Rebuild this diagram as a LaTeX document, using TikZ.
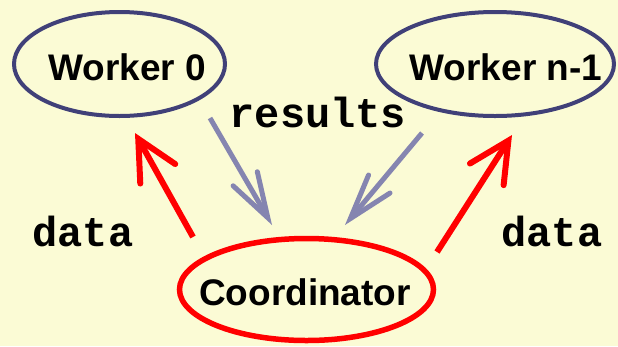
\documentclass[tikz,border=0pt]{standalone}
\usepackage{fontspec}
\setmainfont{Liberation Sans}
\newfontfamily\codefont{Liberation Mono}
\usetikzlibrary{arrows.meta,shapes.geometric}
\definecolor{bgyellow}{RGB}{251,251,213}
\definecolor{navy}{RGB}{64,64,120}
\definecolor{lavender}{RGB}{133,133,176}
\definecolor{pured}{RGB}{255,0,0}
\begin{document}
\begin{tikzpicture}[x=1pt,y=-1pt,
  worker/.style={draw=navy, line width=4pt, ellipse, inner sep=0pt},
  coordell/.style={draw=pured, line width=5.5pt, ellipse, inner sep=0pt},
  boldlabel/.style={font=\fontsize{37}{40}\selectfont\bfseries, anchor=base, inner sep=0pt},
  codelabel/.style={font=\codefont\fontsize{42}{46}\selectfont\bfseries, anchor=base, inner sep=0pt},
  dataarrow/.style={draw=pured, line width=6pt, line cap=butt,
    -{Straight Barb[length=40pt, width=40pt, line cap=round, line join=miter]}},
  resarrow/.style={draw=lavender, line width=5pt, line cap=butt,
    -{Straight Barb[length=45pt, width=28pt, line cap=round, line join=miter]}}]
\useasboundingbox (0,0) rectangle (618,346);
\fill[bgyellow] (0,0) rectangle (618,346);
% ellipses
\node[worker, minimum width=211pt, minimum height=104pt] (w0) at (119.5,64) {};
\node[worker, minimum width=238pt, minimum height=104pt] (wn) at (495,64) {};
\node[coordell, minimum width=254pt, minimum height=102pt] (co) at (306.5,289.5) {};
% labels
\node[boldlabel] (w0t) at (127,80) {Worker 0};
\node[boldlabel] (wnt) at (506,80) {Worker n-1};
\node[boldlabel] (cot) at (305,305) {Coordinator};
\node[codelabel] (res) at (318,127) {results};
\node[codelabel] (dl) at (83,246) {data};
\node[codelabel] (dr) at (552,246) {data};
% arrow end points
\coordinate (r1s) at (193,237);
\coordinate (r1e) at (135,133);
\coordinate (r2s) at (437,252);
\coordinate (r2e) at (512,135);
\coordinate (b1s) at (210,118);
\coordinate (b1e) at (272,225);
\coordinate (b2s) at (422,133);
\coordinate (b2e) at (345,225);
\draw[dataarrow] (r1s) -- (r1e);
\draw[dataarrow] (r2s) -- (r2e);
\draw[resarrow] (b1s) -- (b1e);
\draw[resarrow] (b2s) -- (b2e);
\end{tikzpicture}
\end{document}
